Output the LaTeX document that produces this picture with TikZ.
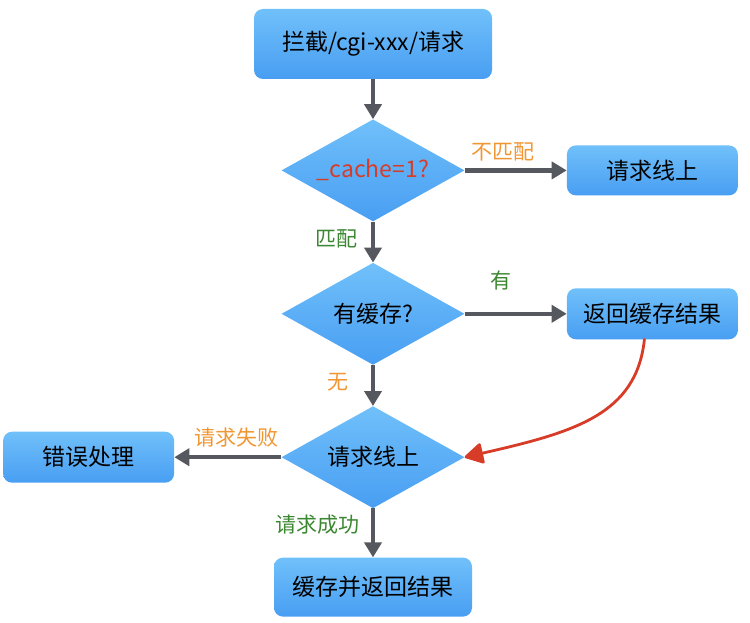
\documentclass[tikz,border=0pt]{standalone}
\usepackage{fontspec}
\setmainfont{Noto Sans CJK SC}
\usetikzlibrary{shapes.geometric,arrows.meta,positioning}
\definecolor{boxtop}{RGB}{112,192,250}
\definecolor{boxbot}{RGB}{72,158,242}
\definecolor{arrowgray}{RGB}{85,88,94}
\definecolor{qorange}{RGB}{240,150,50}
\definecolor{qgreen}{RGB}{60,135,50}
\definecolor{qred}{RGB}{215,60,40}
\begin{document}
\begin{tikzpicture}[x=1pt,y=-1pt]
      \tikzset{every node/.style={font=\fontsize{23}{27}\selectfont},
        stepbox/.style={rectangle, rounded corners=9pt, top color=boxtop, bottom color=boxbot, draw=none},
        ask/.style={diamond, shape aspect=1.8, inner sep=0pt, top color=boxtop, bottom color=boxbot, draw=none,
          minimum width=183pt, minimum height=102pt},
        flow/.style={draw=arrowgray, line width=4.5pt, -{Triangle[length=15pt,width=17pt]}},
        redpen/.style={draw=qred, line width=2.8pt, line cap=round, -{Triangle[length=20pt,width=22pt,round]}},
        lbl/.style={font=\fontsize{21}{24}\selectfont, inner sep=0pt}}
      \useasboundingbox (0,0) rectangle (750,623);

      \node[stepbox, minimum width=238pt, minimum height=70pt] (intercept) at (373,44) {拦截/cgi-xxx/请求};
      \node[ask, below=40pt of intercept] (param) {\textcolor{qred}{\_cache=1?}};
      \node[stepbox, right=102pt of param, minimum width=171pt, minimum height=50pt] (online) {请求线上};
      \node[ask, below=41pt of param] (hascache) {有缓存?};
      \node[stepbox, right=102pt of hascache, minimum width=171pt, minimum height=51pt] (cached) {返回缓存结果};
      \node[ask, below=41pt of hascache] (fetch) {请求线上};
      \node[stepbox, left=107pt of fetch, minimum width=171pt, minimum height=51pt] (error) {错误处理};
      \node[stepbox, below=49pt of fetch, minimum width=198pt, minimum height=59pt] (store) {缓存并返回结果};

      \draw[flow] (intercept) -- (param);
      \draw[flow] (param) -- node[lbl, text=qorange, above=7.5pt, pos=0.38] (nomatch) {不匹配} (online);
      \draw[flow] (param) -- node[lbl, text=qgreen, left=13pt, pos=0.41] (match) {匹配} (hascache);
      \draw[flow] (hascache) -- node[lbl, text=qgreen, above=21.5pt, pos=0.36] (hit) {有} (cached);
      \draw[flow] (hascache) -- node[lbl, text=qorange, left=22pt, pos=0.41] (miss) {无} (fetch);
      \draw[flow] (fetch) -- node[lbl, text=qorange, above=7.5pt, pos=0.42] (fail) {请求失败} (error);
      \draw[flow] (fetch) -- node[lbl, text=qgreen, left=11pt, pos=0.33] (ok) {请求成功} (store);
      \draw[redpen] ([xshift=-8pt]cached.south) .. controls +(-8,75) and +(110,-25) .. (fetch.east);
    \end{tikzpicture}
\end{document}
